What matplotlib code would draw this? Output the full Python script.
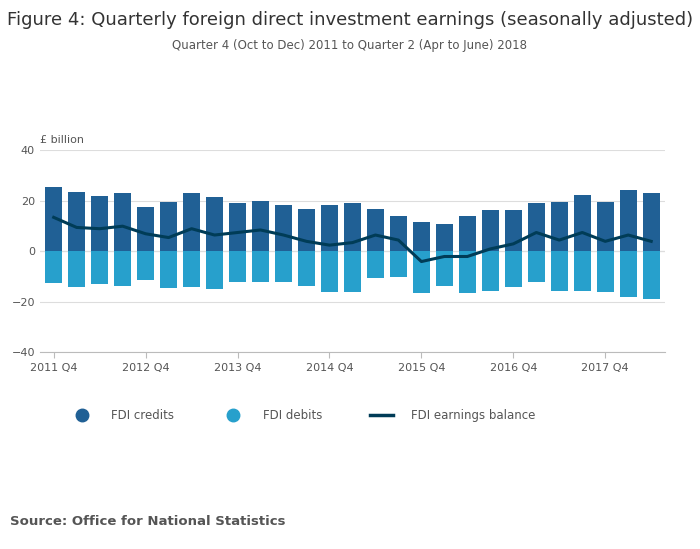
import matplotlib.pyplot as plt
from matplotlib.lines import Line2D
import numpy as np

credits = [25.5, 23.5, 22, 23, 17.5, 19.5, 23, 21.5, 19, 20, 18.5, 17, 18.5, 19, 17, 14,
           11.5, 11, 14, 16.5, 16.5, 19, 19.5, 22.5, 19.5, 24.5, 23]
debits = [-12.5, -14, -13, -13.5, -11.5, -14.5, -14, -15, -12, -12, -12, -13.5, -16, -16,
          -10.5, -10, -16.5, -13.5, -16.5, -15.5, -14, -12, -15.5, -15.5, -16, -18, -19]
balance = [13.5, 9.5, 9, 10, 7, 5.5, 9, 6.5, 7.5, 8.5, 6.5, 4, 2.5, 3.5, 6.5, 4.5,
           -4, -2, -2, 1, 3, 7.5, 4.5, 7.5, 4, 6.5, 4]

x = np.arange(len(credits))
fig = plt.figure(figsize=(7, 5.49), dpi=100)
ax = fig.add_axes([0.057, 0.358, 0.893, 0.368])

ax.bar(x, credits, width=0.75, color='#206095')
ax.bar(x, debits, width=0.75, color='#27a0cc')
ax.plot(x, balance, color='#003c57', linewidth=2.2)

ax.set_ylim(-40, 40)
ax.set_xlim(-0.6, 26.6)
ax.set_yticks([-40, -20, 0, 20, 40])
ax.set_xticks(range(0, 27, 4))
ax.set_xticklabels(['2011 Q4', '2012 Q4', '2013 Q4', '2014 Q4', '2015 Q4', '2016 Q4', '2017 Q4'])
ax.tick_params(labelsize=8, colors='#555555', length=0)
ax.tick_params(axis='x', length=4, color='#bbbbbb')
ax.grid(True, axis='y', color='#dddddd', linewidth=0.8)
ax.set_axisbelow(True)
for s in ['top', 'right', 'left']:
    ax.spines[s].set_visible(False)
ax.spines['bottom'].set_color('#bbbbbb')
ax.spines['bottom'].set_position(('data', -40))
ax.axhline(0, color='#bbbbbb', linewidth=0.8, zorder=0)

fig.text(0.057, 0.74, '£ billion', fontsize=8, color='#555555')
fig.text(0.5, 0.955, 'Figure 4: Quarterly foreign direct investment earnings (seasonally adjusted)',
         ha='center', fontsize=13, color='#333333')
fig.text(0.5, 0.91, 'Quarter 4 (Oct to Dec) 2011 to Quarter 2 (Apr to June) 2018',
         ha='center', fontsize=8.5, color='#555555')

handles = [Line2D([], [], marker='o', linestyle='', color='#206095', markersize=9),
           Line2D([], [], marker='o', linestyle='', color='#27a0cc', markersize=9),
           Line2D([], [], color='#003c57', linewidth=2.5)]
fig.legend(handles, ['FDI credits', 'FDI debits', 'FDI earnings balance'],
           loc='center left', bbox_to_anchor=(0.085, 0.243), ncol=3, frameon=False,
           fontsize=8.5, labelcolor='#555555', columnspacing=4, handletextpad=1.5)

fig.text(0.014, 0.043, 'Source: Office for National Statistics', fontsize=9.5,
         fontweight='bold', color='#555555')

plt.savefig('out.png', dpi=100)
